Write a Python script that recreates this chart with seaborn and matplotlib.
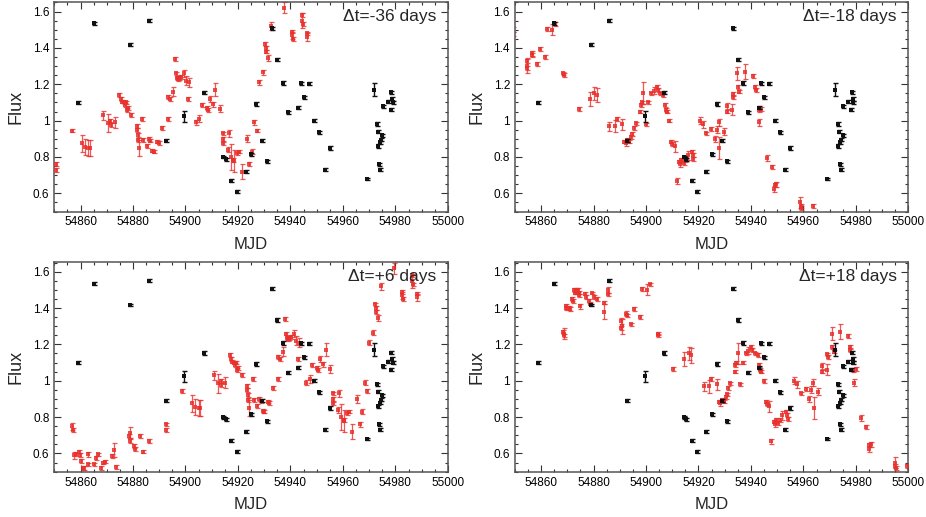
import numpy as np
import pandas as pd
import seaborn as sns
import matplotlib.pyplot as plt
from matplotlib.ticker import MultipleLocator, FormatStrFormatter

# reference light curve (black), same in every panel
black_t = [54858.9, 54865.0, 54879.0, 54886.0, 54892.7, 54899.5, 54907.0, 54914.3,
           54915.3, 54917.4, 54919.5, 54923.0, 54925.0, 54927.0, 54929.0, 54931.0,
           54933.0, 54935.0, 54937.0, 54939.0, 54943.0, 54944.0, 54945.0, 54947.0,
           54949.0, 54951.0, 54953.0, 54955.0, 54969.0, 54972.0, 54973.0, 54973.5,
           54973.2, 54974.0, 54974.5, 54975.0, 54973.8, 54974.2, 54975.2, 54977.0,
           54978.3, 54978.5, 54978.7, 54979.0]
black_f = [1.098, 1.535, 1.418, 1.55, 0.89, 1.025, 1.153, 0.80, 0.787, 0.67, 0.61,
           0.72, 0.816, 1.093, 0.89, 0.776, 1.507, 1.336, 1.207, 1.045, 1.071, 1.205,
           1.129, 1.204, 1.0, 0.936, 0.73, 0.85, 0.68, 1.17, 0.98, 0.94, 0.86, 0.88,
           0.895, 0.92, 0.76, 0.73, 1.08, 1.105, 1.06, 1.155, 1.12, 1.10]
black_e = [0.008, 0.008, 0.007, 0.008, 0.009, 0.03, 0.009, 0.008, 0.008, 0.008,
           0.008, 0.008, 0.008, 0.01, 0.009, 0.008, 0.01, 0.01, 0.009, 0.008, 0.008,
           0.008, 0.009, 0.008, 0.008, 0.008, 0.008, 0.01, 0.007, 0.035, 0.01, 0.01,
           0.009, 0.009, 0.008, 0.008, 0.009, 0.009, 0.008, 0.008, 0.009, 0.01, 0.01,
           0.01]

# red curve A (unshifted times), shown in the -36 and +6 day panels
red_a_t = [54850.8, 54851.0, 54851.7, 54852.2, 54853.3, 54853.8, 54854.2, 54854.8,
           54855.5, 54856.8, 54857.0, 54859.0, 54860.0, 54860.8, 54861.7, 54862.6,
           54863.2, 54866.0, 54866.8, 54867.6, 54872.6, 54872.7, 54872.8, 54874.5,
           54874.7, 54876.6, 54877.7, 54880.0, 54886.6, 54886.7, 54892.7, 54896.6,
           54897.7, 54899.0, 54899.6, 54904.7, 54906.5, 54907.4, 54907.6, 54909.0,
           54910.8, 54911.3, 54911.8, 54912.5, 54912.8, 54913.2, 54913.8, 54914.2,
           54915.4, 54917.4, 54917.6, 54917.8, 54917.9, 54918.3, 54919.6, 54920.0,
           54921.3, 54922.0, 54922.6, 54923.4, 54924.0, 54925.3, 54926.0, 54927.2,
           54929.2, 54929.4, 54930.0, 54931.3, 54932.0, 54932.4, 54932.6, 54933.0,
           54933.6, 54934.3, 54935.3, 54936.2, 54937.0, 54937.4, 54940.0, 54941.3,
           54942.2, 54944.2, 54944.5, 54945.3, 54946.4, 54947.4, 54949.0, 54950.2,
           54950.4, 54950.2, 54952.5, 54952.3, 54953.4, 54954.3, 54954.6, 54955.5,
           54956.3, 54957.4, 54959.5, 54960.4, 54961.2, 54962.3, 54963.3, 54964.1,
           54965.6, 54966.4, 54966.5, 54966.6, 54967.5, 54968.6, 54973.6, 54976.6,
           54976.7, 54976.8, 54980.4, 54980.5, 54980.6, 54982.2, 54982.3]
red_a_f = [0.75, 0.73, 0.59, 0.595, 0.61, 0.59, 0.56, 0.52, 0.52, 0.54, 0.595, 0.54,
           0.575, 0.595, 0.52, 0.55, 0.555, 0.585, 0.62, 0.525, 0.695, 0.667, 0.715,
           0.64, 0.625, 0.695, 0.61, 0.667, 0.76, 0.73, 0.945, 0.875, 0.855, 0.85,
           0.85, 1.03, 0.985, 1.0, 0.975, 0.99, 1.14, 1.12, 1.105, 1.10, 1.085, 1.10,
           1.06, 1.07, 1.03, 0.97, 0.95, 0.92, 0.895, 0.85, 1.01, 0.895, 0.86, 0.90,
           0.89, 0.835, 0.83, 0.885, 0.876, 0.96, 1.01, 1.13, 1.12, 1.16, 1.34, 1.26,
           1.235, 1.23, 1.235, 1.24, 1.26, 1.22, 1.12, 1.21, 0.99, 1.01, 1.085, 1.07,
           1.06, 1.12, 1.09, 1.17, 1.065, 0.93, 0.90, 0.875, 0.93, 0.84, 0.80, 0.785,
           0.78, 0.82, 0.83, 0.72, 0.90, 0.76, 0.83, 0.99, 0.945, 1.21, 1.265, 1.42,
           1.40, 1.38, 1.345, 1.52, 1.62, 1.49, 1.47, 1.45, 1.58, 1.55, 1.53, 1.48,
           1.46]
red_a_e = [0.02, 0.01, 0.02, 0.01, 0.01, 0.01, 0.01, 0.01, 0.01, 0.01, 0.012, 0.01,
           0.01, 0.01, 0.01, 0.01, 0.01, 0.01, 0.04, 0.012, 0.01, 0.01, 0.03, 0.012,
           0.01, 0.01, 0.01, 0.012, 0.01, 0.01, 0.01, 0.045, 0.045, 0.045, 0.045,
           0.025, 0.05, 0.01, 0.01, 0.03, 0.01, 0.01, 0.01, 0.01, 0.01, 0.01, 0.01,
           0.01, 0.012, 0.01, 0.01, 0.01, 0.01, 0.045, 0.01, 0.01, 0.01, 0.012, 0.01,
           0.01, 0.01, 0.01, 0.01, 0.01, 0.01, 0.01, 0.01, 0.025, 0.01, 0.01, 0.01,
           0.01, 0.01, 0.01, 0.02, 0.025, 0.01, 0.025, 0.015, 0.02, 0.01, 0.01, 0.01,
           0.015, 0.015, 0.035, 0.02, 0.01, 0.01, 0.01, 0.02, 0.015, 0.07, 0.01, 0.06,
           0.01, 0.01, 0.04, 0.02, 0.012, 0.015, 0.012, 0.01, 0.015, 0.015, 0.01,
           0.01, 0.01, 0.015, 0.02, 0.03, 0.01, 0.02, 0.01, 0.01, 0.04, 0.01, 0.01,
           0.02]

# red curve B (unshifted times), shown in the -18 and +18 day panels
red_b_t = [54850.5, 54850.6, 54850.7, 54851.5, 54851.6, 54852.5, 54853.2, 54853.7,
           54854.0, 54854.7, 54855.1, 54855.4, 54856.0, 54856.4, 54856.6, 54856.9,
           54858.8, 54859.0, 54860.4, 54860.8, 54861.4, 54862.3, 54863.3, 54865.9,
           54866.1, 54867.4, 54867.5, 54872.5, 54872.6, 54872.8, 54874.4, 54874.6,
           54876.3, 54877.6, 54879.7, 54880.4, 54882.3, 54883.5, 54886.5, 54886.6,
           54892.4, 54896.6, 54898.2, 54899.2, 54904.0, 54906.0, 54906.8, 54908.9,
           54909.8, 54910.2, 54910.8, 54911.7, 54912.4, 54912.7, 54913.3, 54914.0,
           54915.8, 54916.1, 54916.4, 54916.9, 54918.0, 54918.8, 54920.0, 54921.0,
           54922.2, 54922.5, 54923.5, 54924.5, 54925.1, 54925.6, 54926.0, 54926.9,
           54927.7, 54928.0, 54929.0, 54929.8, 54930.7, 54931.1, 54931.5, 54932.4,
           54933.0, 54934.0, 54935.5, 54935.8, 54936.1, 54938.5, 54939.7, 54940.9,
           54942.9, 54944.2, 54945.0, 54945.7, 54946.0, 54947.6, 54948.9, 54949.0,
           54950.8, 54951.0, 54951.2, 54952.7, 54953.0, 54953.5, 54955.9, 54958.8,
           54959.7, 54959.9, 54961.0, 54961.2, 54962.0, 54964.0, 54966.0, 54966.9,
           54967.1, 54967.7, 54976.8, 54977.0, 54977.2, 54981.5]
red_b_f = [1.27, 1.25, 1.26, 1.41, 1.40, 1.40, 1.395, 1.45, 1.44, 1.50, 1.485, 1.495,
           1.50, 1.485, 1.47, 1.41, 1.48, 1.46, 1.44, 1.425, 1.485, 1.46, 1.45, 1.43,
           1.38, 1.50, 1.475, 1.33, 1.29, 1.30, 1.37, 1.36, 1.31, 1.395, 1.35, 1.505,
           1.50, 1.53, 1.26, 1.25, 1.065, 1.12, 1.15, 1.14, 0.97, 0.97, 1.01, 0.98,
           0.885, 0.875, 0.895, 0.885, 0.91, 0.925, 0.96, 0.985, 1.05, 1.085, 1.10,
           1.15, 0.98, 1.10, 1.15, 1.165, 1.185, 1.17, 1.15, 1.14, 1.085, 1.06, 1.05,
           1.00, 0.885, 0.87, 0.86, 0.667, 0.775, 0.76, 0.785, 0.767, 0.785, 0.81,
           0.83, 0.81, 0.79, 1.00, 0.98, 0.93, 0.955, 0.90, 0.95, 0.99, 0.85, 0.94,
           1.08, 1.05, 1.06, 1.145, 1.13, 1.26, 1.185, 1.16, 1.27, 1.245, 1.185, 1.17,
           1.06, 0.99, 1.065, 0.795, 0.745, 0.625, 0.645, 0.65, 0.55, 0.53, 0.52, 0.53]
red_b_e = [0.01, 0.01, 0.03, 0.015, 0.01, 0.01, 0.01, 0.01, 0.01, 0.012, 0.01, 0.015,
           0.01, 0.01, 0.01, 0.015, 0.01, 0.01, 0.01, 0.01, 0.005, 0.01, 0.01, 0.01,
           0.04, 0.015, 0.01, 0.015, 0.01, 0.04, 0.015, 0.01, 0.01, 0.01, 0.01, 0.01,
           0.03, 0.01, 0.01, 0.01, 0.01, 0.04, 0.035, 0.04, 0.025, 0.035, 0.01, 0.03,
           0.01, 0.012, 0.01, 0.01, 0.01, 0.01, 0.01, 0.01, 0.01, 0.01, 0.01, 0.06,
           0.008, 0.01, 0.01, 0.02, 0.01, 0.01, 0.01, 0.01, 0.01, 0.01, 0.01, 0.01,
           0.01, 0.01, 0.03, 0.015, 0.01, 0.015, 0.01, 0.01, 0.01, 0.025, 0.01, 0.01,
           0.01, 0.02, 0.02, 0.01, 0.01, 0.015, 0.02, 0.02, 0.06, 0.02, 0.015, 0.01,
           0.03, 0.01, 0.01, 0.035, 0.01, 0.01, 0.04, 0.01, 0.01, 0.01, 0.01, 0.02,
           0.01, 0.015, 0.01, 0.015, 0.01, 0.015, 0.03, 0.01, 0.01, 0.01]

shifts = [-36, -18, 6, 18]
curve_of_panel = ["A", "B", "A", "B"]

RED = "#e8302c"
BLACK = "#111111"

black = pd.DataFrame({"t": black_t, "f": black_f, "e": black_e})
reds = {
    "A": pd.DataFrame({"t": red_a_t, "f": red_a_f, "e": red_a_e}),
    "B": pd.DataFrame({"t": red_b_t, "f": red_b_f, "e": red_b_e}),
}

sns.set_theme(style="ticks")
plt.rcParams["font.family"] = ["Liberation Sans", "DejaVu Sans"]

fig, axes = plt.subplots(2, 2, figsize=(9.26, 5.17), dpi=100)
fig.subplots_adjust(left=0.0586, right=0.981, bottom=0.0877, top=0.997,
                    wspace=0.17, hspace=0.239)

for ax, dt, key in zip(axes.flat, shifts, curve_of_panel):
    red = reds[key].copy()
    red["t"] = red["t"] + dt

    ax.errorbar(red["t"], red["f"], yerr=red["e"], fmt="none", ecolor=RED,
                elinewidth=0.9, capsize=1.8, capthick=0.9, alpha=0.8, zorder=2)
    sns.scatterplot(data=red, x="t", y="f", color=RED, marker="s", s=5,
                    linewidth=0, alpha=0.85, ax=ax, zorder=3)

    ax.errorbar(black["t"], black["f"], yerr=black["e"], fmt="none", ecolor=BLACK,
                elinewidth=1.0, capsize=1.8, capthick=1.0, zorder=4)
    sns.scatterplot(data=black, x="t", y="f", color=BLACK, marker="s", s=5,
                    linewidth=0, ax=ax, zorder=5)

    ax.set_xlim(54850, 55000)
    ax.set_ylim(0.5, 1.655)
    ax.xaxis.set_major_locator(MultipleLocator(20))
    ax.xaxis.set_minor_locator(MultipleLocator(5))
    ax.yaxis.set_major_locator(MultipleLocator(0.2))
    ax.yaxis.set_minor_locator(MultipleLocator(0.05))
    ax.yaxis.set_major_formatter(FormatStrFormatter("%g"))
    ax.set_xticks(np.arange(54860, 55001, 20))
    ax.tick_params(which="both", direction="in", top=True, right=True,
                   width=0.8, colors="#333333", labelcolor="black")
    ax.tick_params(which="major", length=5, labelsize=8.5)
    ax.tick_params(which="minor", length=2.5)
    for s in ax.spines.values():
        s.set_color("#555555")
        s.set_linewidth(1.1)

    ax.set_xlabel("MJD", fontsize=12, labelpad=6)
    ax.set_ylabel("Flux", fontsize=13, labelpad=6)
    ax.text(0.97, 0.93, f"\u0394t={dt:+d} days", transform=ax.transAxes,
            ha="right", va="center", fontsize=12.5)

plt.savefig("out.png", dpi=100)
plt.close()
